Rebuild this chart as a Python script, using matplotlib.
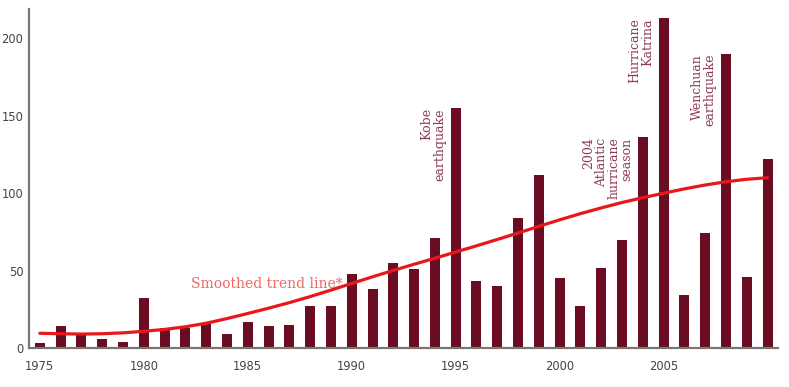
import matplotlib.pyplot as plt

# number of events per year
years = list(range(1975, 2011))
events = [3, 14, 10, 6, 4, 32, 13, 13, 16, 9, 17,
          14, 15, 27, 27, 48, 38, 55, 51, 71, 155,
          43, 40, 84, 112, 45, 27, 52, 70, 136, 213,
          34, 74, 190, 46, 122]

# smoothed trend
trend = [9.5, 9.2, 9.0, 9.2, 9.8, 10.8, 12.0, 13.7, 16.0, 19.0, 22.3,
         25.7, 29.3, 33.2, 37.4, 41.7, 46.0, 50.1, 54.1, 58.0, 62.0,
         66.0, 70.1, 74.3, 78.6, 82.8, 86.8, 90.5, 94.0, 97.1, 100.0,
         102.8, 105.3, 107.4, 109.0, 110.0]

# labelled disasters
note_years = [1995, 2004, 2005, 2008]
note_texts = ['Kobe\nearthquake', '2004\nAtlantic\nhurricane\nseason',
              'Hurricane\nKatrina', 'Wenchuan\nearthquake']

xticks = [1975, 1980, 1985, 1990, 1995, 2000, 2005]
yticks = [0, 50, 100, 150, 200]

bar_color = '#6b0d22'
note_color = '#8c3c52'
line_color = '#e8171b'

fig = plt.figure(figsize=(7.89, 3.87), dpi=100)
ax = fig.add_axes([0.0368, 0.1008, 0.9492, 0.8759])

ax.bar(years, events, width=0.48, color=bar_color, zorder=2)
ax.plot(years, trend, color=line_color, linewidth=2.3, zorder=3,
        solid_capstyle='round')

for yr, txt in zip(note_years, note_texts):
    val = events[years.index(yr)]
    ax.text(yr - 0.47, val, txt, rotation=90, ha='right', va='top',
            multialignment='right', color=note_color, fontsize=9,
            family='DejaVu Serif', linespacing=0.95)

ax.text(1985.9, 41.5, 'Smoothed trend line*', ha='center', va='center',
        color='#ec6a60', fontsize=10, family='DejaVu Serif')

ax.set_xlim(1974.48, 2010.5)
ax.set_ylim(0, 219)
ax.set_xticks(xticks)
ax.set_yticks(yticks)
ax.tick_params(axis='both', length=0, labelsize=8.3, labelcolor='#444444')
ax.tick_params(axis='x', pad=8.5)
ax.tick_params(axis='y', pad=4)

for side in ['top', 'right']:
    ax.spines[side].set_visible(False)
for side in ['left', 'bottom']:
    ax.spines[side].set_color('#777777')
    ax.spines[side].set_linewidth(1.6)

fig.savefig('out.png', dpi=100)
